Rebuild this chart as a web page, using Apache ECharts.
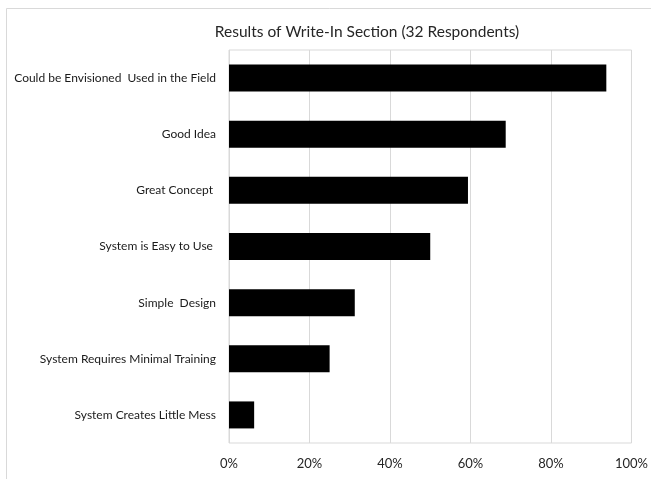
<!DOCTYPE html>
<html>
<head>
<meta charset="utf-8">
<script src="https://cdn.jsdelivr.net/npm/echarts@6/dist/echarts.min.js"></script>
<style>html,body{margin:0;padding:0;background:#fff}#c{width:651px;height:479px}</style>
</head>
<body>
<div id="c"></div>
<script>
var categories = [
  "Could be Envisioned  Used in the Field",
  "Good Idea",
  "Great Concept ",
  "System is Easy to Use ",
  "Simple  Design",
  "System Requires Minimal Training",
  "System Creates Little Mess"
];
var values = [93.75, 68.75, 59.375, 50, 31.25, 25, 6.25];
var xTicks = [0, 20, 40, 60, 80, 100];

var chart = echarts.init(document.getElementById('c'), null, {renderer: 'canvas'});
chart.setOption({
  animation: false,
  backgroundColor: '#fff',
  graphic: [{
    type: 'rect', left: 4, top: 6, shape: {width: 700, height: 520},
    style: {fill: 'none', stroke: '#d9d9d9', lineWidth: 1}, silent: true
  }],
  title: {
    text: 'Results of Write-In Section (32 Respondents)',
    left: 362, top: 19, textAlign: 'center',
    textStyle: {fontFamily: 'Lato', fontWeight: 'normal', fontSize: 15.5, color: '#262626'}
  },
  grid: {left: 229, top: 50, width: 403, height: 393, show: true, borderColor: '#d9d9d9', borderWidth: 1, containLabel: false},
  xAxis: {
    type: 'value', min: 0, max: 100, interval: 20,
    axisLine: {show: false}, axisTick: {show: false},
    splitLine: {lineStyle: {color: '#d9d9d9', width: 1}},
    axisLabel: {
      formatter: function (v) { return xTicks.indexOf(v) >= 0 ? v + '%' : ''; },
      fontFamily: 'Lato', fontSize: 13, color: '#262626', margin: 14
    }
  },
  yAxis: {
    type: 'category', data: categories, inverse: true,
    axisLine: {show: false}, axisTick: {show: false},
    axisLabel: {fontFamily: 'Lato', fontSize: 12, color: '#1a1a1a', margin: 13}
  },
  series: [{
    type: 'bar', data: values, barWidth: 27,
    itemStyle: {color: '#000'}
  }]
});
</script>
</body>
</html>
